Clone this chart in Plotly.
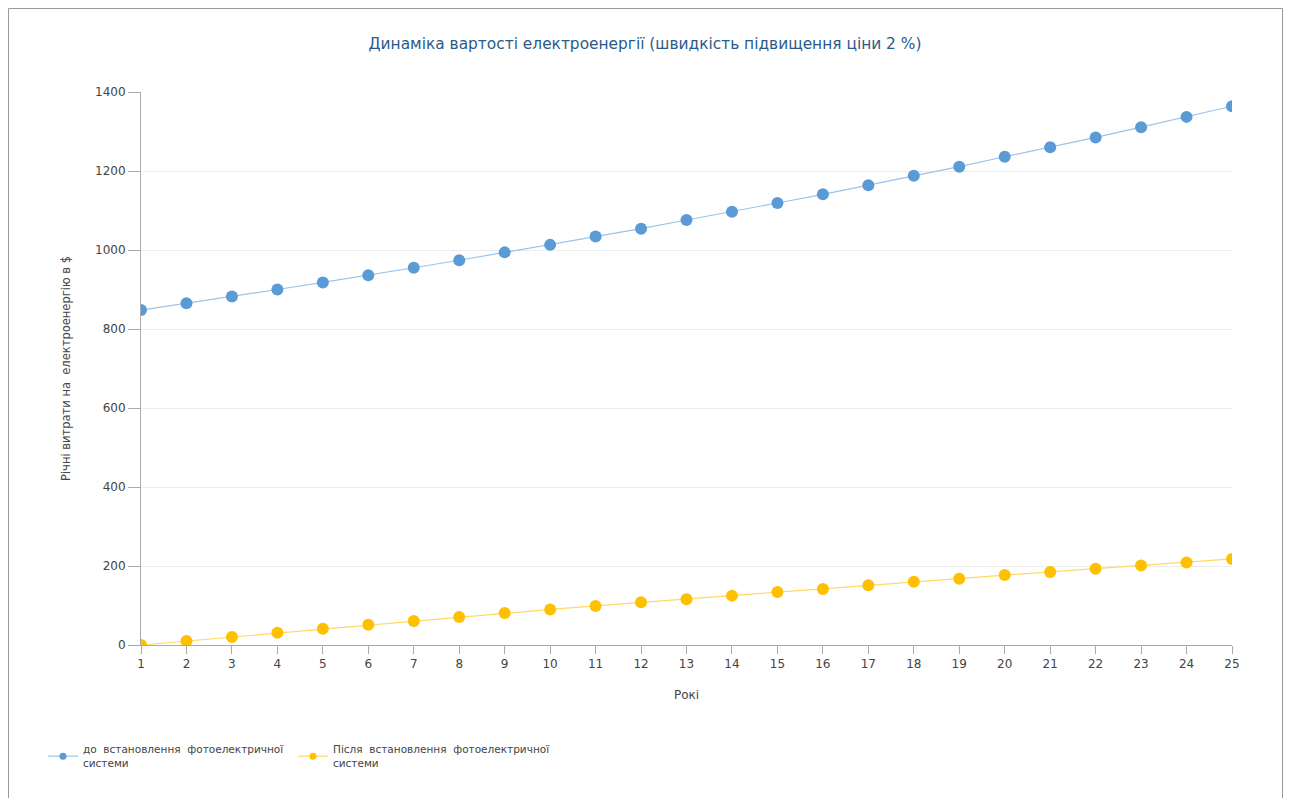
import plotly.graph_objects as go

years = list(range(1, 26))
before_pv = [848, 865, 882, 900, 918, 936, 955, 974, 994, 1013, 1034, 1054, 1076,
             1097, 1119, 1141, 1164, 1188, 1211, 1236, 1260, 1285, 1311, 1337, 1364]
after_pv = [0, 10, 20, 31, 41, 51, 61, 71, 81, 90, 99, 108, 116,
            125, 134, 142, 151, 160, 168, 177, 185, 193, 201, 209, 218]

name_before = "до  встановлення  фотоелектричної<br>системи"
name_after = "Після  встановлення  фотоелектричної<br>системи"
blue, blue_line = "#5b9bd5", "#9cc3e8"
gold, gold_line = "#ffc000", "#ffd966"

W, H = 1292, 798
L, R, T, B = 133, 68, 84, 161
pw, ph = W - L - R, H - T - B

fig = go.Figure()
fig.add_trace(go.Scatter(x=years, y=before_pv, mode="lines+markers", showlegend=False,
                         line=dict(color=blue_line, width=1.2),
                         marker=dict(color=blue, size=12)))
fig.add_trace(go.Scatter(x=years, y=after_pv, mode="lines+markers", showlegend=False,
                         line=dict(color=gold_line, width=1.2),
                         marker=dict(color=gold, size=12)))
# legend entries with small markers, one legend box each
fig.add_trace(go.Scatter(x=[None], y=[None], mode="lines+markers", name=name_before,
                         line=dict(color=blue_line, width=1.2),
                         marker=dict(color=blue, size=7), legend="legend"))
fig.add_trace(go.Scatter(x=[None], y=[None], mode="lines+markers", name=name_after,
                         line=dict(color=gold_line, width=1.2),
                         marker=dict(color=gold, size=7), legend="legend2"))

font = "DejaVu Sans, sans-serif"
leg = dict(xanchor="left", y=(H - B - 728) / ph, yanchor="top",
           font=dict(size=10.5, color="#444"), bgcolor="rgba(0,0,0,0)")
fig.update_layout(
    width=W, height=H,
    margin=dict(l=L, r=R, t=T, b=B),
    paper_bgcolor="white", plot_bgcolor="white",
    font=dict(family=font, size=12, color="#444"),
    title=dict(text="Динаміка вартості електроенергії (швидкість підвищення ціни 2 %)",
               x=637 / W, xanchor="center", y=1 - 36 / H, yanchor="middle",
               font=dict(size=15.4, color="#2a5a8a")),
    xaxis=dict(range=[1, 25], tickvals=years, showgrid=False, zeroline=False,
               showline=True, linecolor="#aaa", ticks="outside", tickcolor="#aaa",
               ticklen=8, title=dict(text="Рокі", standoff=20, font=dict(size=12))),
    yaxis=dict(range=[0, 1400], dtick=200, showgrid=True, gridcolor="#ececec",
               zeroline=False, showline=True, linecolor="#aaa", ticks="outside",
               tickcolor="#aaa", ticklen=12,
               title=dict(text="Річні витрати на  електроенергію в $", standoff=22,
                          font=dict(size=11.5))),
    legend=dict(x=(35 - L) / pw, **leg),
    legend2=dict(x=(285 - L) / pw, **leg),
)

fig.add_shape(type="rect", xref="paper", yref="paper",
              x0=(0.5 - L) / pw, x1=(1274.5 - L) / pw,
              y0=(H - B - 830) / ph, y1=(H - B - 0.5) / ph,
              line=dict(color="#999", width=1), fillcolor="rgba(0,0,0,0)", layer="below")

fig.write_html("out.html")
